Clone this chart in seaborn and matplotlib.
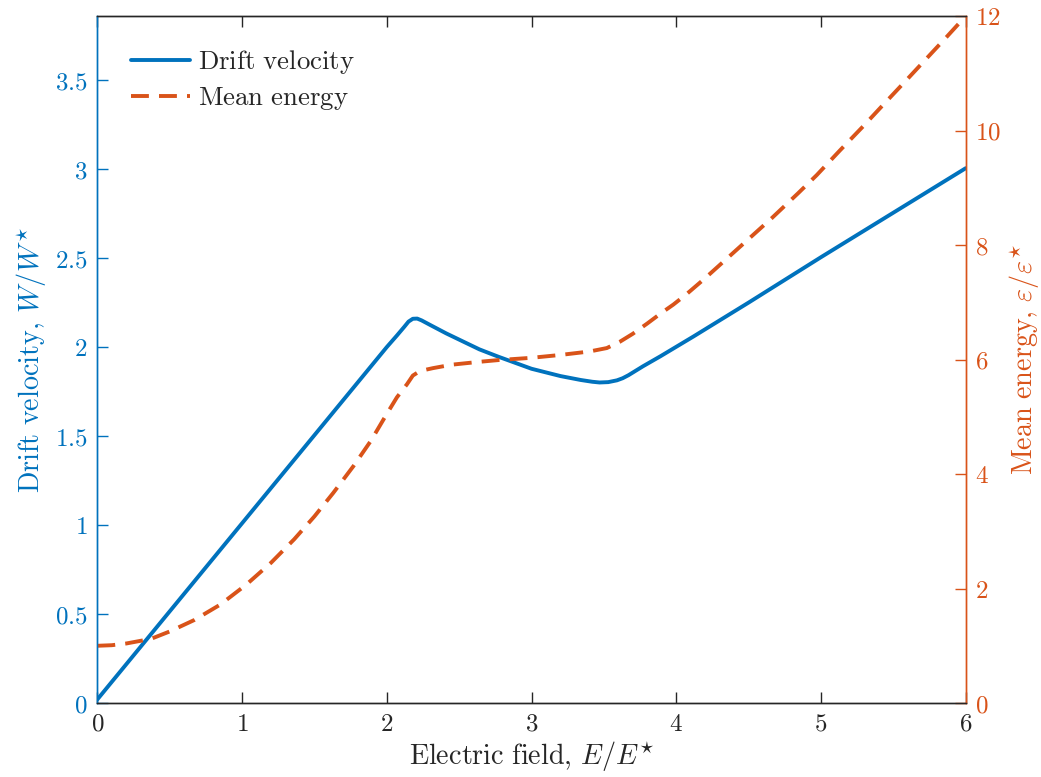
import numpy as np
import pandas as pd
import matplotlib
matplotlib.use("Agg")
import matplotlib.pyplot as plt
import seaborn as sns

# ---- data ----
field_v = [0.0, 0.5, 1.0, 1.5, 2.0, 2.07, 2.12, 2.15, 2.18, 2.21, 2.24, 2.3, 2.41,
           2.53, 2.64, 2.77, 3.0, 3.2, 3.34, 3.42, 3.47, 3.53, 3.59, 3.63, 3.67, 3.71,
           3.77, 3.89, 4.12, 4.5, 5.0, 5.5, 6.0]
drift_velocity = [0.02, 0.515, 1.01, 1.505, 2.0, 2.065, 2.113, 2.143, 2.159, 2.160,
                  2.150, 2.124, 2.077, 2.03, 1.987, 1.946, 1.878, 1.837, 1.815, 1.805,
                  1.801, 1.803, 1.813, 1.825, 1.842, 1.862, 1.892, 1.948, 2.06, 2.25,
                  2.505, 2.755, 3.005]

field_e = [0.0, 0.1, 0.2, 0.37, 0.5, 0.67, 0.85, 1.03, 1.2, 1.36, 1.5, 1.63, 1.77,
           1.89, 2.0, 2.07, 2.14, 2.18, 2.23, 2.32, 2.45, 2.64, 2.77, 3.0, 3.2, 3.4,
           3.52, 3.61, 3.7, 3.8, 3.89, 3.98, 4.07, 4.19, 4.3, 4.48, 4.66, 4.84, 4.97,
           5.13, 5.29, 5.43, 5.59, 5.73, 5.87, 6.0]
mean_energy = [1.0, 1.01, 1.04, 1.12, 1.25, 1.45, 1.72, 2.07, 2.45, 2.86, 3.26, 3.67,
               4.14, 4.58, 5.05, 5.34, 5.57, 5.72, 5.80, 5.85, 5.91, 5.96, 5.99, 6.03,
               6.08, 6.14, 6.2, 6.31, 6.45, 6.63, 6.80, 6.96, 7.14, 7.4, 7.65, 8.06,
               8.47, 8.9, 9.22, 9.65, 10.07, 10.45, 10.88, 11.26, 11.64, 12.0]

x_ticks = [0, 1, 2, 3, 4, 5, 6]
left_ticks = [0, 0.5, 1, 1.5, 2, 2.5, 3, 3.5]
right_ticks = [0, 2, 4, 6, 8, 10, 12]

df_v = pd.DataFrame({"E": field_v, "W": drift_velocity})
df_e = pd.DataFrame({"E": field_e, "eps": mean_energy})

BLUE = "#0072BD"
ORANGE = "#D95319"
DARK = "#262626"

sns.set_style("ticks")
plt.rcParams["font.family"] = ["DejaVu Serif"]
plt.rcParams["mathtext.fontset"] = "cm"

fig = plt.figure(figsize=(10.41, 7.77), dpi=100)
ax = fig.add_axes([0.0935, 0.0952, 0.8342, 0.8842])
ax2 = ax.twinx()

lw = 2.8
sns.lineplot(data=df_v, x="E", y="W", ax=ax, color=BLUE, linewidth=lw,
             label=r"$\mathrm{Drift\ velocity}$", sort=False)
sns.lineplot(data=df_e, x="E", y="eps", ax=ax2, color=ORANGE, linewidth=lw,
             linestyle=(0, (4.6, 2.6)), label=r"$\mathrm{Mean\ energy}$", sort=False)

for a in (ax, ax2):
    if a.get_legend() is not None:
        a.get_legend().remove()

ax.set_xlim(0, 6)
ax.set_ylim(0, 3.86)
ax2.set_ylim(0, 12)
ax.set_xticks(x_ticks)
ax.set_xticklabels(["$%g$" % t for t in x_ticks])
ax.set_yticks(left_ticks)
ax.set_yticklabels(["$%g$" % t for t in left_ticks])
ax2.set_yticks(right_ticks)
ax2.set_yticklabels(["$%g$" % t for t in right_ticks])

fs_tick = 18
fs_label = 20.3
ax.tick_params(axis="x", direction="in", length=8, width=1, colors=DARK,
               labelsize=fs_tick, top=True, pad=7)
ax.tick_params(axis="y", direction="in", length=8, width=1, colors=BLUE,
               labelsize=fs_tick, pad=7)
ax2.tick_params(axis="y", direction="in", length=8, width=1, colors=ORANGE,
                labelsize=fs_tick, pad=7)
ax2.tick_params(axis="x", top=False, bottom=False)

for a in (ax, ax2):
    for s in ("top", "bottom"):
        a.spines[s].set_color(DARK)
        a.spines[s].set_linewidth(1.0)
        a.spines[s].set_visible(True)
    a.spines["left"].set_color(BLUE)
    a.spines["right"].set_color(ORANGE)
    a.spines["left"].set_linewidth(1.0)
    a.spines["right"].set_linewidth(1.0)
    a.spines["left"].set_visible(True)
    a.spines["right"].set_visible(True)

ax.set_xlabel(r"$\mathrm{Electric\ field,}\,E/E^{\star}$", fontsize=fs_label,
              color=DARK, labelpad=2)
ax.set_ylabel(r"$\mathrm{Drift\ velocity,}\,W/W^{\star}$", fontsize=fs_label,
              color=BLUE, labelpad=5)
ax2.set_ylabel(r"$\mathrm{Mean\ energy,}\,\varepsilon/\varepsilon^{\star}$",
               fontsize=fs_label, color=ORANGE, labelpad=4)

handles = ax.get_lines()[:1] + ax2.get_lines()[:1]
labels = [h.get_label() for h in handles]
ax2.legend(handles, labels, loc="upper left", frameon=False, fontsize=19.3,
           handlelength=2.2, handletextpad=0.3, labelspacing=0.3,
           borderpad=0, borderaxespad=0, bbox_to_anchor=(0.039, 0.953))

fig.savefig("out.png", dpi=100)
